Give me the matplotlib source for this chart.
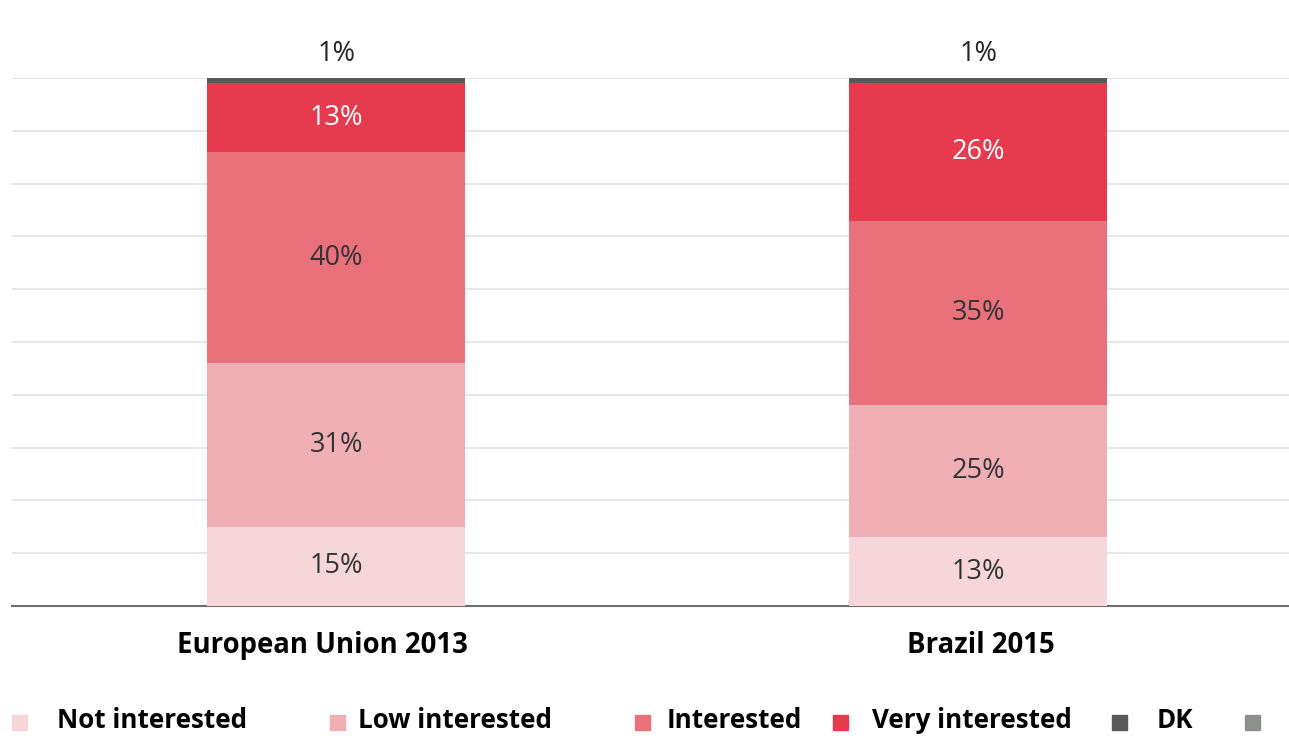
import matplotlib.pyplot as plt
from matplotlib.patches import Rectangle
import numpy as np

categories = ['European Union 2013', 'Brazil 2015']
series = ['Not interested', 'Low interested', 'Interested', 'Very interested', 'DK']
not_interested = [15, 13]
low_interested = [31, 25]
interested = [40, 35]
very_interested = [13, 26]
dk = [1, 1]

colors = ['#F7D6DA', '#F0AFB4', '#E8717B', '#E63A4F', '#59595B']
label_colors = ['#333333', '#333333', '#333333', 'white']

fig = plt.figure(figsize=(12.89, 7.40), dpi=100)
ax = fig.add_axes([12 / 1289, 1 - 606 / 740, 1 - 12 / 1289, (606 - 78) / 740])

x = np.arange(len(categories))
values = [not_interested, low_interested, interested, very_interested, dk]
bottom = np.zeros(len(categories))
for i, vals in enumerate(values):
    ax.bar(x, vals, width=0.402, bottom=bottom, color=colors[i], zorder=3, clip_on=False)
    for j, v in enumerate(vals):
        if i < 4:
            ax.text(x[j], bottom[j] + v / 2, f'{v}%', ha='center', va='center',
                    fontsize=19.5, family='Open Sans', color=label_colors[i], zorder=4)
        else:
            ax.text(x[j], bottom[j] + v + 1.8, f'{v}%', ha='center', va='bottom',
                    fontsize=19.5, family='Open Sans', color='#222222', zorder=4)
    bottom += np.array(vals)

ax.set_xlim(-0.505, 1.484)
ax.set_ylim(0, 100)
ax.set_yticks(np.arange(10, 101, 10))
ax.yaxis.grid(True, color='#e2e2e2', linewidth=1.2, zorder=0)
ax.tick_params(left=False, labelleft=False, bottom=False, labelbottom=False)
for s in ['top', 'right', 'left']:
    ax.spines[s].set_visible(False)
ax.spines['bottom'].set_color('#6e6e6e')
ax.spines['bottom'].set_linewidth(1.5)

# category labels
label_x = [-0.022, 1.004]
for j, c in enumerate(categories):
    ax.text(label_x[j], -7.5, c, ha='center', va='center', fontsize=19.8,
            fontweight='bold', family='Open Sans', color='black')

# legend row
sq_x = [12, 330, 635, 833, 1112, 1245]
txt_x = [57, 358, 667, 872, 1157]
leg_colors = colors + ['#8C8F8C']
for k, sx in enumerate(sq_x):
    fig.add_artist(Rectangle((sx / 1289, 1 - 730 / 740), 15 / 1289, 15 / 740,
                             transform=fig.transFigure, color=leg_colors[k]))
for k, tx in enumerate(txt_x):
    fig.text(tx / 1289, 1 - 721 / 740, series[k], ha='left', va='center',
             fontsize=18.7, fontweight='bold', family='Open Sans', color='black')

fig.savefig('out.png', dpi=100)
